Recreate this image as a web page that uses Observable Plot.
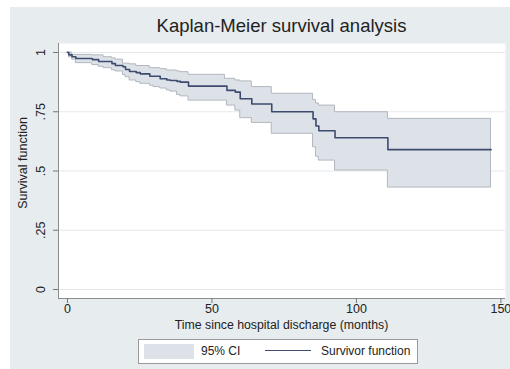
<!DOCTYPE html>
<html>
<head>
<meta charset="utf-8">
<script src="https://cdn.jsdelivr.net/npm/d3@7"></script>
<script src="https://cdn.jsdelivr.net/npm/@observablehq/plot@0.6"></script>
<style>
  html, body { margin: 0; padding: 0; background: #ffffff; }
  #wrap { position: relative; width: 510px; height: 369px; overflow: hidden; font-family: "Liberation Sans", Arial, Helvetica, sans-serif; color: #222; }
  #bg { position: absolute; left: 10px; top: 7px; right: 0; bottom: 0; background: #e7ecef; }
  #chart { position: absolute; left: 0; top: 0; }
  .title { position: absolute; left: 58px; width: 447px; top: 16px; line-height: 20px; text-align: center; font-size: 18.5px; color: #222; white-space: nowrap; }
  .xlab { position: absolute; left: 58px; width: 447px; top: 318px; line-height: 14px; text-align: center; font-size: 12.3px; color: #222; white-space: nowrap; }
  .ylab { position: absolute; left: 23px; top: 163px; transform: translate(-50%, -50%) rotate(-90deg); font-size: 12.5px; color: #222; white-space: nowrap; }
  .legend { position: absolute; left: 138px; top: 339px; width: 280px; height: 25px; box-sizing: border-box; background: #fff; border: 1px solid #9a9a9a; font-size: 12px; color: #222; }
  .legend .sw { position: absolute; left: 5px; top: 4px; width: 50px; height: 15px; background: #dde2e8; }
  .legend .t1 { position: absolute; left: 62px; top: 4px; white-space: nowrap; }
  .legend .ln { position: absolute; left: 126px; top: 10px; width: 46px; height: 0; border-top: 1.3px solid #3d4b6d; }
  .legend .t2 { position: absolute; left: 182px; top: 4px; white-space: nowrap; }
</style>
</head>
<body>
<div id="wrap">
  <div id="bg"></div>
  <div id="chart"></div>
  <div class="title">Kaplan-Meier survival analysis</div>
  <div class="xlab">Time since hospital discharge (months)</div>
  <div class="ylab">Survival function</div>
  <div class="legend">
    <div class="sw"></div><div class="t1">95% CI</div>
    <div class="ln"></div><div class="t2">Survivor function</div>
  </div>
</div>
<script>
// Step times (months) and estimates
const times    = [0, 0.5, 1.6, 2.9, 8.6, 10.8, 12.5, 15.4, 16.6, 19.2, 20.1, 21.5, 23.8, 25.2, 28.5, 29.8, 32.1, 34.4, 35.6, 37.9, 39.1, 41.9, 54.5, 55.2, 58.1, 59.8, 63.8, 70.7, 85.0, 86.0, 87.0, 92.6, 110.9, 146.6];
const survival = [1.000, 0.990, 0.982, 0.975, 0.970, 0.962, 0.962, 0.953, 0.945, 0.940, 0.928, 0.920, 0.915, 0.910, 0.900, 0.900, 0.889, 0.884, 0.882, 0.878, 0.875, 0.858, 0.858, 0.840, 0.833, 0.805, 0.783, 0.750, 0.720, 0.690, 0.670, 0.640, 0.590, 0.590];
const upperCI  = [1.000, 1.000, 0.990, 0.990, 0.988, 0.988, 0.980, 0.975, 0.970, 0.953, 0.953, 0.950, 0.943, 0.943, 0.934, 0.934, 0.930, 0.924, 0.924, 0.920, 0.917, 0.906, 0.889, 0.889, 0.882, 0.878, 0.854, 0.826, 0.800, 0.785, 0.776, 0.748, 0.720, 0.720];
const lowerCI  = [1.000, 0.980, 0.970, 0.955, 0.947, 0.940, 0.934, 0.925, 0.920, 0.905, 0.896, 0.882, 0.875, 0.868, 0.860, 0.854, 0.848, 0.840, 0.835, 0.821, 0.815, 0.797, 0.797, 0.776, 0.755, 0.723, 0.703, 0.657, 0.600, 0.560, 0.544, 0.502, 0.430, 0.430];

const xTicks = [0, 50, 100, 150];
const yTicks = [0, 0.25, 0.5, 0.75, 1];
const yTickLabels = ["0", ".25", ".5", ".75", "1"];
const xDomain = [-3.1, 151.6];
const yDomain = [-0.038, 1.038];

const rows = times.map((t, i) => ({t, s: survival[i], hi: upperCI[i], lo: lowerCI[i]}));

const chart = Plot.plot({
  width: 510,
  height: 369,
  marginLeft: 58,
  marginRight: 5,
  marginTop: 43,
  marginBottom: 71,
  style: {background: "transparent", fontFamily: "'Liberation Sans', Arial, sans-serif", fontSize: "13px", color: "#222"},
  x: {domain: xDomain},
  y: {domain: yDomain},
  marks: [
    Plot.frame({fill: "white", stroke: null}),
    Plot.gridY(yTicks, {stroke: "#e3e9ed", strokeOpacity: 1}),
    Plot.areaY(rows, {x: "t", y1: "lo", y2: "hi", curve: "step-after", fill: "#dde2e8", stroke: "#b2b7be", strokeWidth: 1}),
    Plot.line(rows, {x: "t", y: "s", curve: "step-after", stroke: "#3d4b6d", strokeWidth: 1.6}),
    Plot.ruleX([xDomain[0]], {stroke: "#8c8c8c"}),
    Plot.ruleY([yDomain[0]], {stroke: "#8c8c8c"}),
    Plot.axisX(xTicks, {tickSize: 5, tickPadding: 1, fontSize: 12.5, label: null, stroke: "#777", fill: "#222"}),
    Plot.axisY(yTicks, {tickSize: 5, tickFormat: () => "", label: null, stroke: "#777"}),
    Plot.text(yTicks, {y: d => d, text: (d, i) => yTickLabels[i], frameAnchor: "left", dx: -18, rotate: -90, fontSize: 12.5, lineAnchor: "middle", textAnchor: "middle", fill: "#222"})
  ]
});
document.getElementById("chart").appendChild(chart);
</script>
</body>
</html>
